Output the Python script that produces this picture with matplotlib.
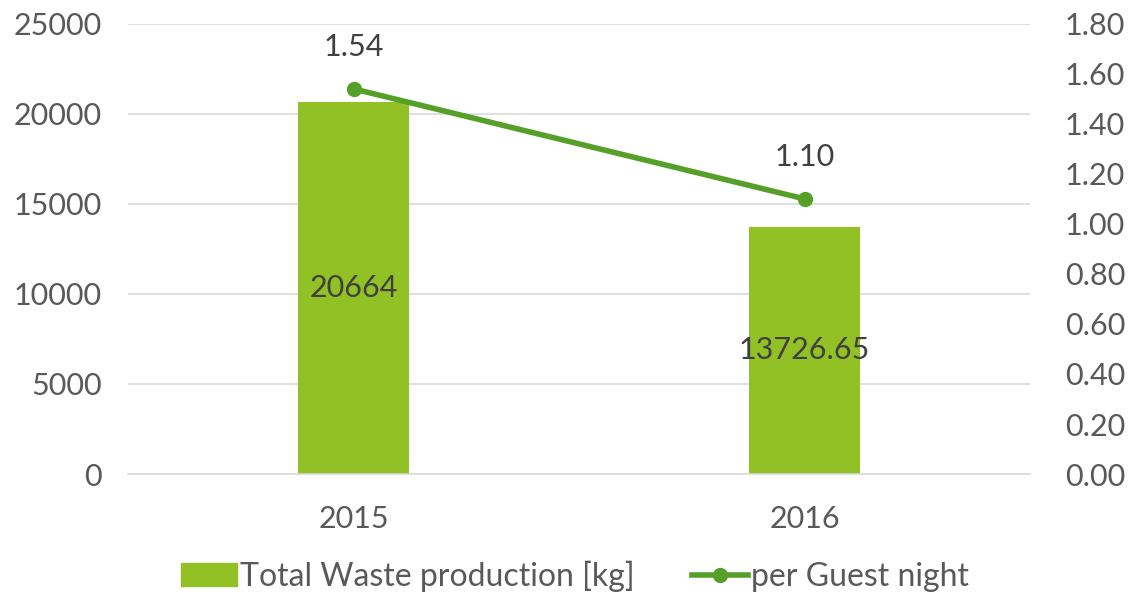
import matplotlib
matplotlib.use("Agg")
import matplotlib.pyplot as plt

years = ["2015", "2016"]
total_waste = [20664, 13726.65]
per_guest_night = [1.54, 1.10]
waste_labels = ["20664", "13726.65"]

bar_color = "#92C125"
line_color = "#56A02A"
text_color = "#595959"

plt.rcParams["font.family"] = ["Lato", "DejaVu Sans"]

fig = plt.figure(figsize=(11.37, 5.97), dpi=100)
ax = fig.add_axes([0.1126, 0.206, 0.7935, 0.754])
x = list(range(len(years)))

ax.bar(x, total_waste, width=0.245, color=bar_color, zorder=2)
ax.set_xlim(-0.5, 1.5)
ax.set_ylim(0, 25000)
ax.set_yticks(range(0, 25001, 5000))
ax.set_xticks(x)
ax.set_xticklabels(years)
ax.grid(axis="y", color="#D9D9D9", linewidth=1.2, zorder=0)
for s in ["top", "right", "left"]:
    ax.spines[s].set_visible(False)
ax.spines["bottom"].set_color("#D9D9D9")
ax.spines["bottom"].set_linewidth(1.2)
ax.tick_params(axis="both", length=0, labelsize=22, colors=text_color)
ax.tick_params(axis="y", pad=19)
ax.tick_params(axis="x", pad=22)

for xi, v, lab in zip(x, total_waste, waste_labels):
    ax.text(xi, v / 2, lab, ha="center", va="center", fontsize=22,
            color="#404040", zorder=4)

ax2 = ax.twinx()
ax2.plot(x, per_guest_night, color=line_color, linewidth=4,
         marker="o", markersize=10, zorder=3)
ax2.set_ylim(0, 1.8)
ax2.set_yticks([i * 0.2 for i in range(10)])
ax2.set_yticklabels([f"{i * 0.2:.2f}" for i in range(10)])
for s in ["top", "right", "left", "bottom"]:
    ax2.spines[s].set_visible(False)
ax2.tick_params(axis="y", length=0, labelsize=22, colors=text_color, pad=25)

for xi, v in zip(x, per_guest_night):
    ax2.annotate(f"{v:.2f}", (xi, v), xytext=(0, 20), textcoords="offset points",
                 ha="center", va="bottom", fontsize=22, color="#404040")

bar_h = plt.Rectangle((0, 0), 1, 1, color=bar_color)
line_h = plt.Line2D([], [], color=line_color, linewidth=4, marker="o", markersize=10)
fig.legend([bar_h, line_h], ["Total Waste production [kg]", "per Guest night"],
           loc="center", bbox_to_anchor=(0.506, 0.035), ncol=2, frameon=False,
           fontsize=23, labelcolor=text_color, handlelength=1.75, handletextpad=0.1,
           columnspacing=1.8)

fig.savefig("out.png", dpi=100)
